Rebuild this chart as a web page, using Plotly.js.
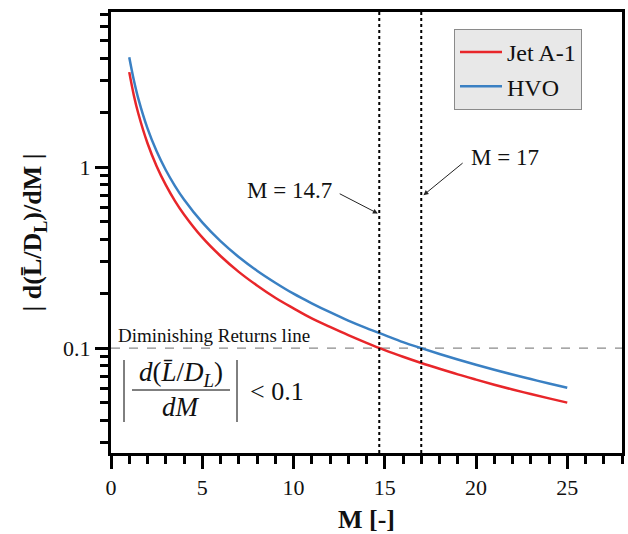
<!DOCTYPE html>
<html>
<head>
<meta charset="utf-8">
<script src="https://cdn.plot.ly/plotly-3.0.1.min.js"></script>
<style>html,body{margin:0;padding:0;background:#fff;}#chart{width:628px;height:534px;}</style>
</head>
<body>
<div id="chart"></div>
<script>
// Data
const M = [1, 1.25, 1.5, 2, 2.5, 3, 3.5, 4, 5, 6, 7, 8, 9, 10, 11, 12, 13, 14, 15, 16, 17, 18, 19, 20, 21, 22, 23, 24, 25];
const jetA1 = [3.35, 2.50, 1.973, 1.355, 1.012, 0.798, 0.652, 0.548, 0.409, 0.323, 0.264, 0.222, 0.190, 0.166, 0.146, 0.131, 0.118, 0.107, 0.0975, 0.0896, 0.0828, 0.0769, 0.0716, 0.0670, 0.0628, 0.0591, 0.0558, 0.0528, 0.0500];
const hvo = [4.05, 3.03, 2.385, 1.638, 1.224, 0.965, 0.789, 0.663, 0.495, 0.390, 0.319, 0.268, 0.230, 0.200, 0.177, 0.158, 0.142, 0.129, 0.118, 0.108, 0.100, 0.0929, 0.0866, 0.0810, 0.0760, 0.0715, 0.0675, 0.0638, 0.0605];
const seriesNames = ['Jet A-1', 'HVO'];
const threshold = 0.1;
const markers = [14.7, 17];
const markerLabels = ['M = 14.7', 'M = 17'];
const xTicks = [0, 5, 10, 15, 20, 25];
const yTicks = [0.1, 1];
const yTickText = ['0.1', '1'];

const FONT = 'Liberation Serif, Times New Roman, serif';
const xr = [0, 28];
const yr = [Math.log10(0.02635), Math.log10(7.2)];

const traces = [
  {x: M, y: jetA1, name: seriesNames[0], mode: 'lines', line: {color: '#e8262a', width: 2.5, shape: 'spline'}},
  {x: M, y: hvo, name: seriesNames[1], mode: 'lines', line: {color: '#3a80c3', width: 2.5, shape: 'spline'}}
];

// px -> paper helpers for decorative formula
const L = 111, R = 622, T = 12, B = 453;
const px = v => (v - L) / (R - L);
const py = v => (B - v) / (B - T);

const shapes = [
  {type: 'line', xref: 'paper', yref: 'y', x0: 0, x1: 1, y0: threshold, y1: threshold, line: {color: '#8a8a8a', width: 1.3, dash: 'dash'}, layer: 'below'},
  ...markers.map(m => ({type: 'line', xref: 'x', yref: 'paper', x0: m, x1: m, y0: 0, y1: 1, line: {color: '#000', width: 2, dash: 'dot'}})),
  {type: 'line', xref: 'paper', yref: 'paper', x0: px(124), x1: px(124), y0: py(360), y1: py(422), line: {color: '#000', width: 1}},
  {type: 'line', xref: 'paper', yref: 'paper', x0: px(237), x1: px(237), y0: py(360), y1: py(422), line: {color: '#000', width: 1}},
  {type: 'line', xref: 'paper', yref: 'paper', x0: px(132), x1: px(230), y0: py(390), y1: py(390), line: {color: '#000', width: 1}}
];

const annotations = [
  {xref: 'paper', yref: 'y', x: px(116), y: Math.log10(threshold), xanchor: 'left', yanchor: 'bottom', yshift: 0, showarrow: false, text: 'Diminishing Returns line', font: {family: FONT, size: 19, color: '#111'}},
  {xref: 'paper', yref: 'paper', x: px(181), y: py(374), xanchor: 'center', yanchor: 'middle', showarrow: false, text: '<i>d</i>(<i>L̄</i>/<i>D<sub>L</sub></i>)', font: {family: FONT, size: 27, color: '#111'}},
  {xref: 'paper', yref: 'paper', x: px(181), y: py(407), xanchor: 'center', yanchor: 'middle', showarrow: false, text: '<i>dM</i>', font: {family: FONT, size: 27, color: '#111'}},
  {xref: 'paper', yref: 'paper', x: px(248), y: py(391), xanchor: 'left', yanchor: 'middle', showarrow: false, text: '&lt; 0.1', font: {family: FONT, size: 26, color: '#111'}},
  // arrows
  {xref: 'x', yref: 'y', x: 14.62, y: Math.log10(0.555), axref: 'x', ayref: 'y', ax: 12.45, ay: Math.log10(0.72), text: '', showarrow: true, arrowhead: 2, arrowsize: 1, arrowwidth: 1, arrowcolor: '#222'},
  {xref: 'x', yref: 'y', x: 17.12, y: Math.log10(0.70), axref: 'x', ayref: 'y', ax: 19.35, ay: Math.log10(1.07), text: '', showarrow: true, arrowhead: 2, arrowsize: 1, arrowwidth: 1, arrowcolor: '#222'},
  {xref: 'x', yref: 'y', x: 12.2, y: Math.log10(0.745), xanchor: 'right', yanchor: 'middle', showarrow: false, text: markerLabels[0], font: {family: FONT, size: 23, color: '#111'}},
  {xref: 'x', yref: 'y', x: 19.6, y: Math.log10(1.135), xanchor: 'left', yanchor: 'middle', showarrow: false, text: markerLabels[1], font: {family: FONT, size: 23, color: '#111'}}
];

const minorY = [0.03, 0.04, 0.05, 0.06, 0.07, 0.08, 0.09, 0.2, 0.3, 0.4, 0.5, 0.6, 0.7, 0.8, 0.9, 2, 3, 4, 5, 6, 7];

const layout = {
  width: 628, height: 534,
  margin: {l: L, r: 628 - R, t: T, b: 534 - B},
  paper_bgcolor: '#fff', plot_bgcolor: '#fff',
  font: {family: FONT, color: '#111'},
  showlegend: true,
  legend: {x: px(454), y: py(29), xanchor: 'left', yanchor: 'top', bgcolor: '#e8e8e8', bordercolor: '#8a8a8a', borderwidth: 1, font: {family: FONT, size: 24, color: '#111'}, itemwidth: 42, tracegroupgap: 0},
  xaxis: {
    range: xr, showgrid: false, zeroline: false,
    showline: true, linewidth: 3, linecolor: '#000', mirror: true,
    ticks: 'outside', ticklen: 13, tickwidth: 3, tickcolor: '#000',
    tickmode: 'array', tickvals: xTicks, ticktext: xTicks.map(String),
    tickfont: {family: FONT, size: 22, color: '#111'},
    minor: {ticks: 'outside', dtick: 1, tick0: 0, ticklen: 8, tickwidth: 3, tickcolor: '#000', showgrid: false},
    title: {text: '<b>M [-]</b>', font: {family: FONT, size: 26, color: '#111'}, standoff: 12}
  },
  yaxis: {
    type: 'log', range: yr, showgrid: false, zeroline: false,
    showline: true, linewidth: 3, linecolor: '#000', mirror: true,
    ticks: 'outside', ticklen: 13, tickwidth: 3, tickcolor: '#000',
    tickmode: 'array', tickvals: yTicks, ticktext: yTickText,
    tickfont: {family: FONT, size: 22, color: '#111'},
    minor: {ticks: 'outside', tickmode: 'array', tickvals: minorY, ticklen: 8, tickwidth: 3, tickcolor: '#000', showgrid: false},
    title: {text: '<b>| d(L̄/D<sub>L</sub>)/dM |</b>', font: {family: FONT, size: 26, color: '#111'}, standoff: 14}
  },
  shapes: shapes,
  annotations: annotations
};

Plotly.newPlot('chart', traces, layout, {displayModeBar: false, staticPlot: true});
</script>
</body>
</html>
